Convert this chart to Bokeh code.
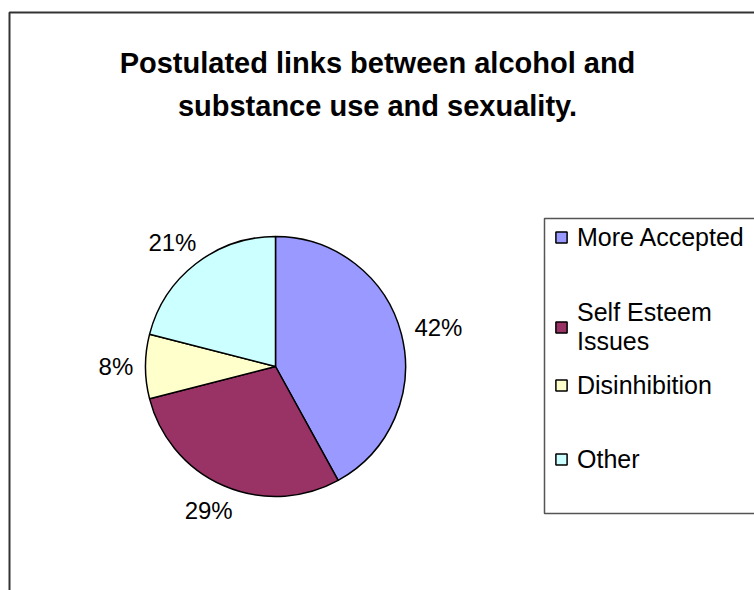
import math
from bokeh.plotting import figure
from bokeh.models import (ColumnDataSource, Range1d, Legend, LegendItem,
                          BoxAnnotation, Label)
from bokeh.core.properties import value
from bokeh.embed import file_html
from bokeh.resources import INLINE

# ---- data ----
categories = ["More Accepted", "Self Esteem\nIssues", "Disinhibition", "Other"]
values = [42, 29, 8, 21]
colors = ["#9999FF", "#993366", "#FFFFCC", "#CCFFFF"]
title_lines = ["Postulated links between alcohol and",
               "substance use and sexuality."]

W, H = 754, 590
FONT = "Liberation Sans"

p = figure(width=W, height=H, output_backend="svg", toolbar_location=None,
           x_range=Range1d(0, W), y_range=Range1d(0, H),
           x_axis_location=None, y_axis_location=None,
           min_border=0, outline_line_color=None)
p.grid.visible = False
p.background_fill_color = "white"
p.border_fill_color = "white"

# outer chart-area frame
p.add_layout(BoxAnnotation(left=9, right=W + 50, top=H - 12, bottom=-50,
                           fill_alpha=0, line_color="#333333", line_alpha=1,
                           line_width=2, level="underlay"))

# pie geometry
cx, cy, r = 275, H - 366, 130
total = float(sum(values))
starts, ends, lx, ly, labels = [], [], [], [], []
cum = 0.0
for v in values:
    a0 = math.pi / 2 - 2 * math.pi * cum / total
    a1 = math.pi / 2 - 2 * math.pi * (cum + v) / total
    mid = math.pi / 2 - 2 * math.pi * (cum + v / 2) / total
    starts.append(a0)
    ends.append(a1)
    txt = f"{v}%"
    w = 24 * (0.556 * (len(txt) - 1) + 0.889)
    dx, dy = math.cos(mid), math.sin(mid)
    lx.append(cx + (r + 7) * dx + (w / 2) * dx * 1.3)
    ly.append(cy + (r + 7) * dy + 20 * dy)
    labels.append(txt)
    cum += v

src = ColumnDataSource(dict(start=starts, end=ends, color=colors,
                            cat=categories))
wr = p.wedge(x=cx, y=cy, radius=r, start_angle="start", end_angle="end",
             direction="clock", fill_color="color", line_color="black",
             line_width=1.5, source=src)

lsrc = ColumnDataSource(dict(x=lx, y=ly, t=labels))
p.text(x="x", y="y", text="t", source=lsrc, text_align="center",
       text_baseline="middle", text_font=value(FONT), text_font_size="24px",
       text_color="black")

# title
for i, line in enumerate(title_lines):
    p.add_layout(Label(x=W / 2, y=H - 62 - 43 * i, text=line,
                       text_align="center", text_baseline="alphabetic",
                       text_font=FONT, text_font_style="bold",
                       text_font_size="29px", text_color="black"))

# legend box
p.add_layout(BoxAnnotation(left=544, right=W + 50, top=H - 218, bottom=H - 513,
                           fill_color="white", fill_alpha=1,
                           line_color="#555555", line_alpha=1, line_width=1.5))

common = dict(orientation="vertical", glyph_width=14, glyph_height=14,
              label_standoff=9, padding=0, margin=0,
              border_line_color=None, background_fill_alpha=0,
              label_text_font=FONT, label_text_font_size="25px",
              label_text_color="black")

items_a = [LegendItem(label=categories[i], renderers=[wr], index=i)
           for i in (0, 1)]
items_b = [LegendItem(label=categories[i], renderers=[wr], index=i)
           for i in (2, 3)]
legend_a = Legend(items=items_a, location=(554, 233), spacing=30,
                  label_height=60, **common)
legend_b = Legend(items=items_b, location=(554, 116), spacing=44,
                  label_height=30, **common)
p.add_layout(legend_a)
p.add_layout(legend_b)

open("out.html", "w").write(file_html(p, INLINE))
